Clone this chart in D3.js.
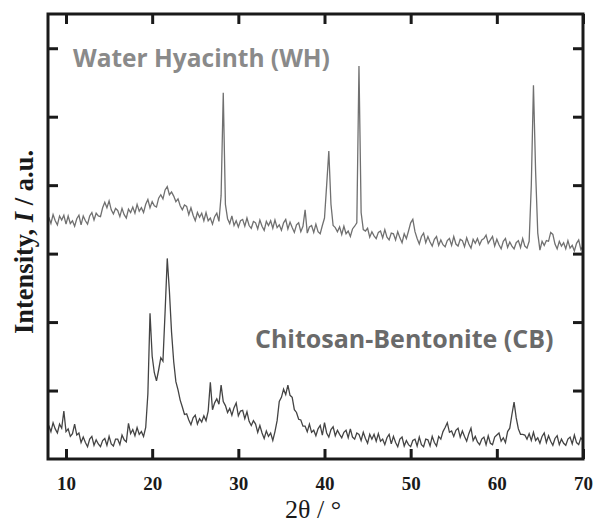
<!DOCTYPE html>
<html>
<head>
<meta charset="utf-8">
<script src="https://cdn.jsdelivr.net/npm/d3@7"></script>
<style>
  body { margin: 0; background: #fff; }
</style>
</head>
<body>
<div id="chart"></div>
<script>
// XRD patterns, sampled every 0.25 deg from 8 to 70 (2-theta)
const thetaStart = 8, thetaStep = 0.25;

// Water Hyacinth (upper trace), a.u.
const whIntensity = [
  353, 344, 357, 348, 342, 355, 349, 356,   // 8
  343, 355, 344, 348, 340, 351, 356, 342,   // 10
  355, 348, 343, 355, 360, 349, 359, 355,   // 12
  354, 367, 375, 367, 377, 364, 358, 366,   // 14
  363, 354, 366, 357, 352, 365, 360, 368,   // 16
  359, 372, 362, 367, 360, 372, 379, 367,   // 18
  376, 370, 368, 381, 386, 380, 393, 398,   // 20
  386, 390, 384, 376, 380, 370, 364, 371,   // 22
  369, 357, 367, 356, 348, 360, 353, 359,   // 24
  348, 360, 348, 352, 343, 354, 359, 347,   // 26
  385, 535, 372, 351, 344, 355, 341, 348,   // 28
  339, 348, 350, 340, 352, 341, 337, 347,   // 30
  345, 336, 349, 340, 334, 347, 341, 348,   // 32
  337, 349, 338, 342, 334, 345, 350, 336,   // 34
  346, 338, 331, 342, 345, 332, 340, 364,   // 36
  330, 339, 341, 331, 343, 332, 329, 341,   // 38
  352, 400, 450, 372, 341, 338, 332, 339,   // 40
  328, 340, 329, 333, 325, 336, 340, 345,   // 42
  574, 360, 335, 333, 337, 324, 332, 326,   // 44
  322, 331, 333, 323, 335, 324, 320, 330,   // 46
  329, 320, 332, 323, 316, 329, 322, 333,   // 48
  345, 350, 332, 322, 314, 325, 330, 316,   // 50
  325, 317, 311, 321, 325, 312, 320, 313,   // 52
  310, 319, 322, 312, 325, 314, 311, 321,   // 54
  319, 310, 323, 314, 308, 321, 315, 322,   // 56
  313, 320, 322, 327, 315, 320, 325, 311,   // 58
  321, 313, 307, 318, 322, 309, 317, 311,   // 60
  307, 316, 319, 309, 322, 311, 308, 318,   // 62
  400, 546, 420, 330, 305, 318, 312, 319,   // 64
  318, 331, 328, 314, 307, 318, 311, 316,   // 66
  307, 319, 308, 312, 304, 315, 320, 306,   // 68
  311                                        // 70
];

// Chitosan-Bentonite (lower trace), a.u.
const cbIntensity = [
  49, 40, 53, 44, 38, 51, 45, 70,           // 8
  40, 44, 33, 37, 51, 35, 38, 24,           // 10
  32, 24, 18, 29, 33, 20, 28, 22,           // 12
  18, 27, 30, 20, 33, 22, 19, 29,           // 14
  29, 21, 35, 28, 25, 52, 37, 43,           // 16
  34, 46, 36, 40, 33, 46, 95, 213,          // 18
  150, 126, 114, 130, 148, 143, 215, 293,   // 20
  245, 185, 142, 113, 101, 86, 76, 65,      // 22
  66, 57, 50, 60, 64, 51, 59, 54,           // 24
  63, 56, 70, 112, 72, 82, 88, 80,          // 26
  108, 84, 78, 68, 74, 64, 75, 82,          // 28
  63, 70, 71, 59, 69, 55, 49, 56,           // 30
  51, 39, 49, 38, 30, 41, 33, 38,           // 32
  27, 40, 56, 84, 90, 102, 94, 108,         // 34
  93, 90, 72, 68, 58, 57, 48, 48,           // 36
  40, 51, 39, 42, 34, 44, 49, 35,           // 38
  53, 38, 32, 43, 47, 34, 42, 36,           // 40
  31, 39, 42, 31, 44, 32, 29, 38,           // 42
  36, 27, 39, 30, 23, 36, 29, 36,           // 44
  26, 37, 26, 29, 21, 31, 36, 22,           // 46
  33, 24, 18, 29, 32, 19, 27, 21,           // 48
  18, 27, 29, 19, 32, 21, 18, 29,           // 50
  28, 19, 33, 24, 19, 33, 29, 40,           // 52
  46, 53, 39, 41, 33, 42, 45, 32,           // 54
  41, 33, 26, 37, 45, 27, 33, 25,           // 56
  21, 29, 32, 21, 34, 23, 21, 32,           // 58
  35, 38, 26, 31, 24, 40, 45, 65,           // 60
  83, 60, 44, 36, 36, 35, 29, 37,           // 62
  27, 39, 27, 31, 23, 33, 38, 24,           // 64
  34, 26, 20, 30, 34, 21, 29, 23,           // 66
  20, 29, 32, 22, 35, 24, 21, 31,           // 68
  27                                         // 70
];

const xTicks = [10, 20, 30, 40, 50, 60, 70];
const yTicks = [100, 200, 300, 400, 500, 600];
const seriesNames = ["Water Hyacinth (WH)", "Chitosan-Bentonite (CB)"];

const W = 595, H = 525;
const margin = { top: 14, right: 12, bottom: 66, left: 48 };

const x = d3.scaleLinear().domain([7.91, 70]).range([margin.left, W - margin.right]);
const y = d3.scaleLinear().domain([0, 650]).range([H - margin.bottom, margin.top]);

const svg = d3.select("#chart").append("svg")
  .attr("width", W)
  .attr("height", H);

const toPoints = vals => vals.map((v, i) => [thetaStart + i * thetaStep, v]);

const line = d3.line()
  .x(d => x(d[0]))
  .y(d => y(d[1]));

// traces
svg.append("path")
  .datum(toPoints(whIntensity))
  .attr("d", line)
  .attr("fill", "none")
  .attr("stroke", "#707070")
  .attr("stroke-width", 1.3);

svg.append("path")
  .datum(toPoints(cbIntensity))
  .attr("d", line)
  .attr("fill", "none")
  .attr("stroke", "#444")
  .attr("stroke-width", 1.3);

// axes, ticks pointing inward
const x0 = margin.left, x1 = W - margin.right;
const y0 = H - margin.bottom, y1 = margin.top;

const styleAxis = g => {
  g.select(".domain").remove();
  g.selectAll(".tick line").attr("stroke", "#1a1a1a").attr("stroke-width", 3);
};

svg.append("g")
  .attr("transform", `translate(0,${y0})`)
  .call(d3.axisBottom(x).tickValues(xTicks).tickSize(-10).tickPadding(18).tickFormat(d3.format("d")))
  .call(styleAxis)
  .call(g => g.selectAll(".tick text")
    .attr("font-family", "'Liberation Serif', 'Times New Roman', serif")
    .attr("font-weight", "bold")
    .attr("font-size", 19)
    .attr("fill", "#1a1a1a"));

svg.append("g")
  .attr("transform", `translate(0,${y1})`)
  .call(d3.axisTop(x).tickValues(xTicks).tickSize(-10).tickFormat(""))
  .call(styleAxis);

svg.append("g")
  .attr("transform", `translate(${x0},0)`)
  .call(d3.axisLeft(y).tickValues(yTicks).tickSize(-10).tickFormat(""))
  .call(styleAxis);

svg.append("g")
  .attr("transform", `translate(${x1},0)`)
  .call(d3.axisRight(y).tickValues(yTicks).tickSize(-10).tickFormat(""))
  .call(styleAxis);

// frame
svg.append("rect")
  .attr("x", x0).attr("y", y1)
  .attr("width", x1 - x0).attr("height", y0 - y1)
  .attr("fill", "none")
  .attr("stroke", "#1a1a1a")
  .attr("stroke-width", 3);

// series labels
svg.append("text")
  .attr("x", 73).attr("y", 67)
  .attr("font-family", "'Open Sans', sans-serif")
  .attr("font-weight", "bold")
  .attr("font-size", 24.5)
  .attr("fill", "#8a8a8a")
  .text(seriesNames[0]);

svg.append("text")
  .attr("x", 255).attr("y", 348)
  .attr("font-family", "'Open Sans', sans-serif")
  .attr("font-weight", "bold")
  .attr("font-size", 25)
  .attr("fill", "#6a6a6a")
  .text(seriesNames[1]);

// axis titles
svg.append("text")
  .attr("x", 313).attr("y", 518)
  .attr("text-anchor", "middle")
  .attr("font-family", "'Liberation Serif', 'Times New Roman', serif")
  .attr("font-size", 26)
  .attr("fill", "#1a1a1a")
  .text("2θ / °");

const yTitle = svg.append("text")
  .attr("transform", "translate(33,242) rotate(-90)")
  .attr("text-anchor", "middle")
  .attr("font-family", "'Liberation Serif', 'Times New Roman', serif")
  .attr("font-weight", "bold")
  .attr("font-size", 26.5)
  .attr("fill", "#1a1a1a");
yTitle.append("tspan").text("Intensity, ");
yTitle.append("tspan").attr("font-style", "italic").text("I");
yTitle.append("tspan").text(" / a.u.");
</script>
</body>
</html>
